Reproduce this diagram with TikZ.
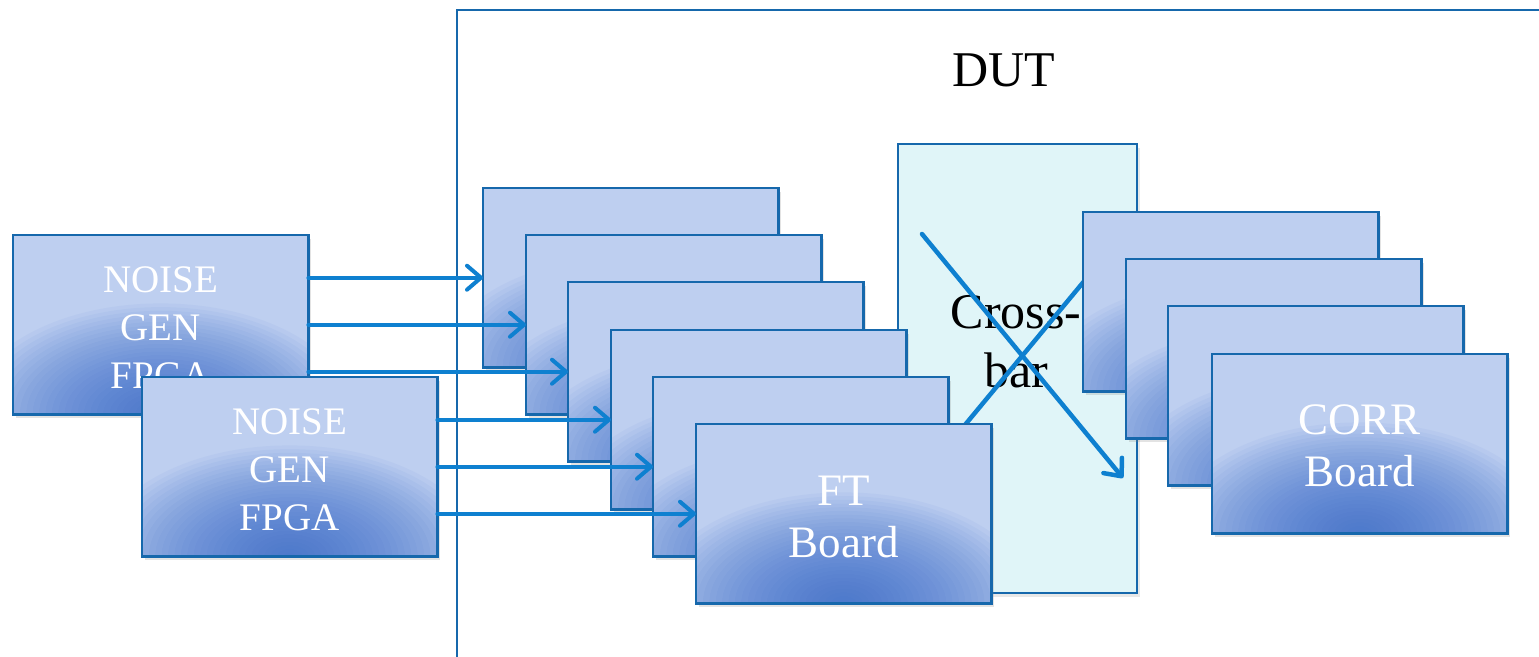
\documentclass[tikz,border=0pt]{standalone}
\usepackage{fontspec}
\setmainfont{Liberation Serif}
\usetikzlibrary{arrows.meta,shadows}
\definecolor{boxfill}{RGB}{190,207,240}
\definecolor{glowdk}{RGB}{58,108,204}
\definecolor{boxline}{RGB}{22,104,172}
\definecolor{arrowblue}{RGB}{14,128,208}
\definecolor{xbarfill}{RGB}{224,245,248}
\newcommand\glowon[1]{%
  \begin{scope}
    \clip (#1.south west) rectangle (#1.north east);
    \foreach \k in {1,...,30}{
      \fill[glowdk, opacity=0.05] (#1.south) ellipse [x radius=6.4*\k, y radius=3.7*\k];
    }
  \end{scope}
  \draw[boxline, line width=2.2pt] (#1.south west) rectangle (#1.north east);}
\begin{document}
\begin{tikzpicture}[x=1pt,y=-1pt,
  board/.style={fill=boxfill,
    minimum width=295pt, minimum height=179pt, inner sep=0pt,
    anchor=north west,
    drop shadow={opacity=0.22, shadow xshift=3pt, shadow yshift=-4pt}},
  boardtext/.style={text=white, align=center, inner sep=0pt},
  noisefont/.style={font=\fontsize{39}{48}\selectfont},
  boardfont/.style={font=\fontsize{45}{52}\selectfont},
  bigfont/.style={font=\fontsize{50}{59}\selectfont},
  arr/.style={draw=arrowblue, line width=4pt, line cap=round,
    -{Straight Barb[length=14pt,width=24pt,line cap=round,line join=round]}},
  xline/.style={draw=arrowblue, line width=4.5pt},
  dutline/.style={draw=boxline, line width=2pt}
]
\useasboundingbox (0,0) rectangle (1539,656);
\clip (0,0) rectangle (1539,656);
\fill[white] (0,0) rectangle (1539,656);

% DUT frame
\draw[dutline] (457,10) rectangle (1600,700);
\node[bigfont, text=black] (dutlabel) at (1004,70) {DUT};

% crossbar
\node[draw=boxline, line width=2.2pt, fill=xbarfill, anchor=north west,
  minimum width=239pt, minimum height=449pt, inner sep=0pt,
  drop shadow={opacity=0.18, shadow xshift=3pt, shadow yshift=-4pt}] (xbar) at (897,143) {};
\node[bigfont, text=black, align=center] (xtext) at (1016,342) {Cross-\\bar};
\coordinate (xc) at (945,449);
\coordinate (xd) at (1100,262);
\draw[xline] (xc) -- (xd);

% FT boards
\node[board] (ft1) at (483,188) {};\glowon{ft1}
\node[board] (ft2) at (526,235) {};\glowon{ft2}
\node[board] (ft3) at (568,282) {};\glowon{ft3}
\node[board] (ft4) at (611,330) {};\glowon{ft4}
\node[board] (ft5) at (653,377) {};\glowon{ft5}
\node[board] (ft6) at (696,424) {};\glowon{ft6}
\node[boardtext, boardfont] (ft6t) at ([yshift=-3pt]ft6.center) {FT\\Board};

% CORR boards
\node[board] (cb1) at (1083,212) {};\glowon{cb1}
\node[board] (cb2) at (1126,259) {};\glowon{cb2}
\node[board] (cb3) at (1168,306) {};\glowon{cb3}
\node[board] (cb4) at (1212,354) {};\glowon{cb4}
\node[boardtext, boardfont] (cb4t) at ([yshift=-2pt]cb4.center) {CORR\\Board};

% noise generators
\node[board] (n1) at (13,235) {};\glowon{n1}
\node[boardtext, noisefont] (n1t) at ([yshift=-3pt]n1.center) {NOISE\\GEN\\FPGA};
\node[board] (n2) at (142,377) {};\glowon{n2}
\node[boardtext, noisefont] (n2t) at ([yshift=-3pt]n2.center) {NOISE\\GEN\\FPGA};

% connectors
\draw[arr] (ft1.west -| n1.east) -- (ft1.west);
\draw[arr] (ft2.west -| n1.east) -- (ft2.west);
\draw[arr] (ft3.west -| n1.east) -- (ft3.west);
\draw[arr] (ft4.west -| n2.east) -- (ft4.west);
\draw[arr] (ft5.west -| n2.east) -- (ft5.west);
\draw[arr] (ft6.west -| n2.east) -- (ft6.west);

% crossbar arrow
\coordinate (xa) at (922,234);
\coordinate (xb) at (1123,478);
\draw[arr, line width=4.5pt] (xa) -- (xb);
\end{tikzpicture}
\end{document}
